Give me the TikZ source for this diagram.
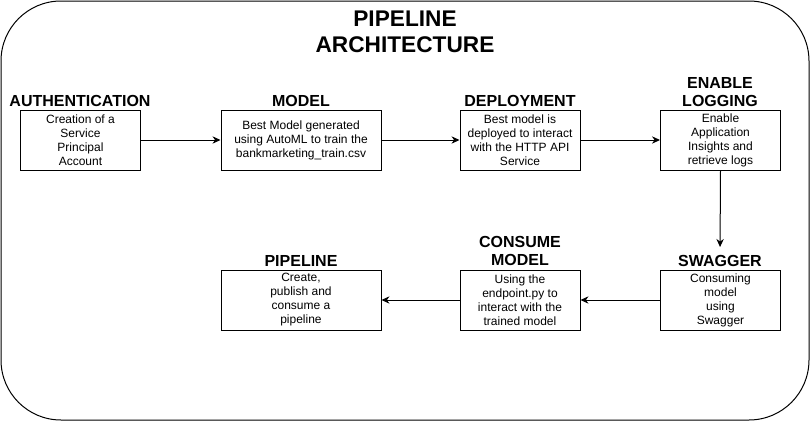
\documentclass[tikz,border=0pt]{standalone}
\usepackage{fontspec}
\setmainfont{Liberation Sans}
\usetikzlibrary{arrows.meta}
\begin{document}
\begin{tikzpicture}[x=0.75pt,y=-0.75pt,
  box/.style={draw, line width=0.75pt, minimum width=90pt, minimum height=45pt, align=center, inner sep=1pt,
    font=\fontsize{9}{10.5}\selectfont},
  widebox/.style={box, minimum width=120pt},
  lbl/.style={anchor=north, align=center, inner sep=0pt, font=\fontsize{12}{13.5}\selectfont\bfseries},
  ttl/.style={anchor=north, align=center, inner sep=0pt, font=\fontsize{17}{19.5}\selectfont\bfseries},
  arr/.style={draw, line width=0.75pt, -{Stealth[length=6pt,width=5.5pt]}}]
\useasboundingbox (0,0) rectangle (811,421);
\draw[line width=0.75pt, rounded corners=45pt] (1,1) rectangle (809,420);
\node[ttl] (title) at (405,11) {PIPELINE\\ARCHITECTURE};
% top row
\node[box] (auth) at (80.5,140) {Creation of a\\Service\\Principal\\Account};
\node[lbl] (authl) at (80,95) {AUTHENTICATION};
\node[widebox] (model) at (301,140) {Best Model generated\\using AutoML to train the\\bankmarketing\_train.csv};
\node[lbl] (modell) at (301,95) {MODEL};
\node[box] (deploy) at (520,140) {Best model is\\deployed to interact\\with the HTTP API\\Service};
\node[lbl] (deployl) at (520,95) {DEPLOYMENT};
\node[box] (logging) at (720.5,140) {Enable\\Application\\Insights and\\retrieve logs};
\node[lbl] (loggingl) at (720,77) {ENABLE\\LOGGING};
% bottom row
\node[box] (swagger) at (720.5,300) {Consuming\\model\\using\\Swagger};
\node[lbl] (swaggerl) at (720,255) {SWAGGER};
\node[box] (consume) at (520,300) {Using the\\endpoint.py to\\interact with the\\trained model};
\node[lbl] (consumel) at (520,236) {CONSUME\\MODEL};
\node[widebox] (pipe) at (301,300) {Create,\\publish and\\consume a\\pipeline};
\node[lbl] (pipel) at (301,255) {PIPELINE};
% connectors
\draw[arr] (auth) -- (model);
\draw[arr] (model) -- (deploy);
\draw[arr] (deploy) -- (logging);
\draw[arr, shorten >=6pt] (logging.south) -- (swaggerl.north);
\draw[arr] (swagger) -- (consume);
\draw[arr] (consume) -- (pipe);
\end{tikzpicture}
\end{document}
